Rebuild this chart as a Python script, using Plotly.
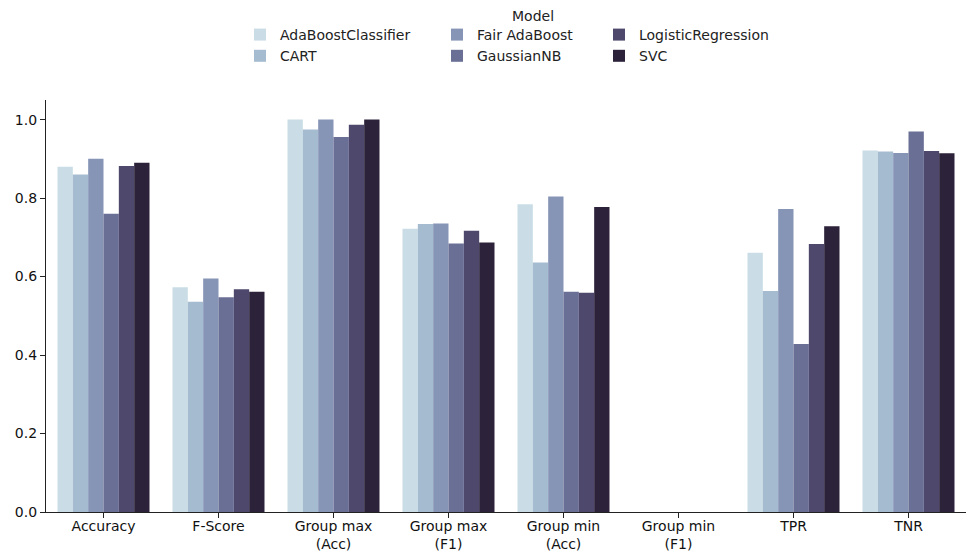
import plotly.graph_objects as go

# Metric categories on the x axis and their two-line tick labels
categories = ["Accuracy", "F-Score", "Group max (Acc)", "Group max (F1)",
              "Group min (Acc)", "Group min (F1)", "TPR", "TNR"]
tick_labels = ["Accuracy", "F-Score", "Group max<br>(Acc)", "Group max<br>(F1)",
               "Group min<br>(Acc)", "Group min<br>(F1)", "TPR", "TNR"]

# Scores per model, one value per metric
ada_boost = [0.880, 0.573, 1.000, 0.722, 0.784, 0.0, 0.661, 0.921]
cart = [0.860, 0.536, 0.975, 0.734, 0.636, 0.0, 0.563, 0.919]
fair_ada_boost = [0.900, 0.595, 1.000, 0.735, 0.804, 0.0, 0.772, 0.915]
gaussian_nb = [0.760, 0.547, 0.956, 0.684, 0.561, 0.0, 0.428, 0.970]
logistic_regression = [0.882, 0.568, 0.987, 0.717, 0.559, 0.0, 0.683, 0.920]
svc = [0.890, 0.561, 1.000, 0.687, 0.777, 0.0, 0.728, 0.914]

models = ["AdaBoostClassifier", "CART", "Fair AdaBoost",
          "GaussianNB", "LogisticRegression", "SVC"]
series = [ada_boost, cart, fair_ada_boost, gaussian_nb, logistic_regression, svc]
colors = ["#cadde6", "#a5bbcf", "#8694b6", "#6a6f96", "#4e486d", "#2c2239"]
# legend columns: two models per column, read top to bottom
legend_ids = ["legend", "legend", "legend2", "legend2", "legend3", "legend3"]

FONT = "DejaVu Sans"
W, H = 968, 551
M_L, M_R, M_T, M_B = 46, 2, 100, 39

fig = go.Figure()
for name, vals, col, lg in zip(models, series, colors, legend_ids):
    fig.add_trace(go.Bar(
        x=categories, y=vals, name=name, legend=lg,
        marker=dict(color=col, line=dict(width=0)),
    ))

plot_w = W - M_L - M_R
plot_h = H - M_T - M_B


def px_x(p):
    return (p - M_L) / plot_w


def px_y(p):
    return 1 + (M_T - p) / plot_h


legend_common = dict(
    orientation="v", yanchor="top", xanchor="left",
    font=dict(family=FONT, size=14, color="#222222"),
    bgcolor="rgba(0,0,0,0)", borderwidth=0, tracegroupgap=0,
    itemclick=False, itemdoubleclick=False,
)

axis_common = dict(
    showline=True, linecolor="#222222", linewidth=1.2,
    ticks="outside", ticklen=5, tickcolor="#222222",
    showgrid=False, zeroline=False, automargin=False,
    tickfont=dict(family=FONT, size=14, color="#111111"),
)

fig.update_layout(
    width=W, height=H,
    margin=dict(l=M_L, r=M_R, t=M_T, b=M_B, autoexpand=False),
    paper_bgcolor="white", plot_bgcolor="white",
    barmode="group", bargap=0.2, bargroupgap=0,
    font=dict(family=FONT, size=14, color="#000000"),
    legend=dict(x=px_x(240), y=px_y(19), **legend_common),
    legend2=dict(x=px_x(437), y=px_y(19), **legend_common),
    legend3=dict(x=px_x(599), y=px_y(19), **legend_common),
    xaxis=dict(
        range=[-0.5, 7.5], tickmode="array", tickvals=categories, ticktext=tick_labels,
        ticklabelstandoff=-4, **axis_common,
    ),
    yaxis=dict(
        range=[0, 1.05], tickvals=[0, 0.2, 0.4, 0.6, 0.8, 1.0],
        ticktext=["0.0", "0.2", "0.4", "0.6", "0.8", "1.0"],
        **axis_common,
    ),
    annotations=[dict(
        text="Model", x=px_x(533), y=px_y(16), xref="paper", yref="paper",
        xanchor="center", yanchor="middle", showarrow=False,
        font=dict(family=FONT, size=14, color="#222222"),
    )],
)

fig.write_html("out.html")
